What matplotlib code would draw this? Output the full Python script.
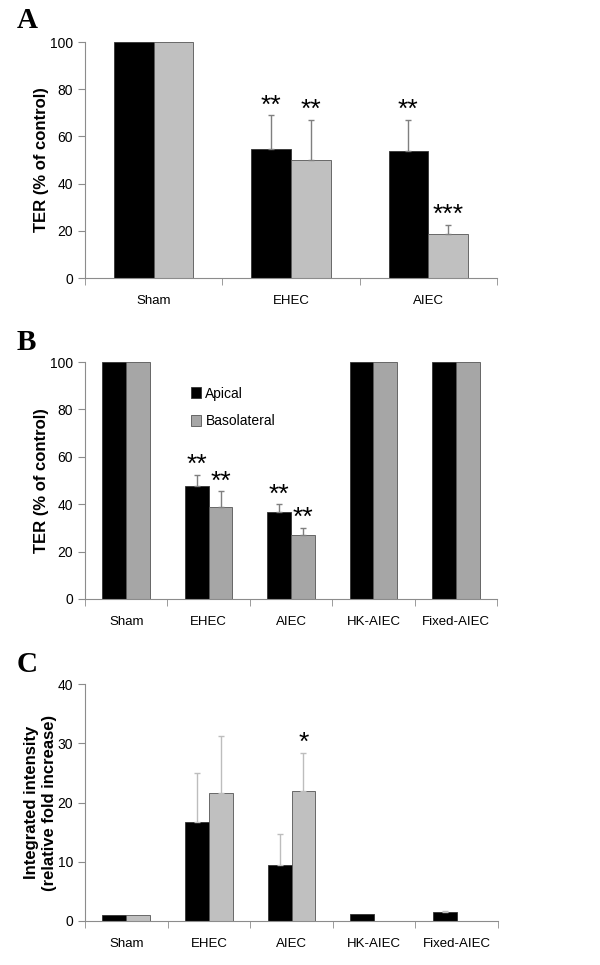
import numpy as np
from matplotlib import pyplot as plt

plt.rcParams['font.family'] = ['Liberation Sans', 'DejaVu Sans']

# panel A
cats_a = ['Sham', 'EHEC', 'AIEC']
apical_a = [100, 54.5, 54]
apical_a_err = [0, 14.5, 13]
baso_a = [100, 50, 18.5]
baso_a_err = [0, 17, 4]
stars_a_apical = ['', '**', '**']
stars_a_baso = ['', '**', '***']

# panel B
cats_b = ['Sham', 'EHEC', 'AIEC', 'HK-AIEC', 'Fixed-AIEC']
apical_b = [100, 47.5, 36.5, 100, 100]
apical_b_err = [0, 5, 3.5, 0, 0]
baso_b = [100, 39, 27, 100, 100]
baso_b_err = [0, 6.5, 3, 0, 0]
stars_b_apical = ['', '**', '**', '', '']
stars_b_baso = ['', '**', '**', '', '']

# panel C
cats_c = ['Sham', 'EHEC', 'AIEC', 'HK-AIEC', 'Fixed-AIEC']
apical_c = [1, 16.7, 9.4, 1.2, 1.5]
apical_c_err = [0, 8.3, 5.2, 0, 0.15]
baso_c = [1, 21.6, 21.9, 0, 0]
baso_c_err = [0, 9.6, 6.5, 0, 0]
stars_c_baso = ['', '', '*', '', '']

W, H = 600, 965
fig = plt.figure(figsize=(W / 100, H / 100), dpi=100)
fig.patch.set_facecolor('white')

AXIS_COL = '#8c8c8c'


def make_ax(x0, x1, ytop, ybot):
    return fig.add_axes([x0 / W, 1 - ybot / H, (x1 - x0) / W, (ybot - ytop) / H])


def draw_panel(ax, cats, apical, apical_err, baso, baso_err, ymax, ystep,
               grey, err_col, stars_ap=None, stars_ba=None, bw=0.29):
    x = np.arange(len(cats))
    ax.bar(x - bw / 2, apical, bw, color='black', edgecolor='#333333', linewidth=0.6, zorder=2)
    ax.bar(x + bw / 2, baso, bw, color=grey, edgecolor='#555555', linewidth=0.6, zorder=2)
    for i in range(len(cats)):
        if apical_err[i] > 0:
            ax.errorbar(x[i] - bw / 2, apical[i], yerr=[[0], [apical_err[i]]], fmt='none',
                        ecolor=err_col, elinewidth=1, capsize=2.5, capthick=1, zorder=3)
        if baso_err[i] > 0:
            ax.errorbar(x[i] + bw / 2, baso[i], yerr=[[0], [baso_err[i]]], fmt='none',
                        ecolor=err_col, elinewidth=1, capsize=2.5, capthick=1, zorder=3)
        if stars_ap and stars_ap[i]:
            ax.text(x[i] - bw / 2, apical[i] + apical_err[i] - ymax * 0.01, stars_ap[i],
                    ha='center', va='bottom', fontsize=19)
        if stars_ba and stars_ba[i]:
            ax.text(x[i] + bw / 2, baso[i] + baso_err[i] - ymax * 0.01, stars_ba[i],
                    ha='center', va='bottom', fontsize=19)
    ax.set_xlim(-0.5, len(cats) - 0.5)
    ax.set_ylim(0, ymax)
    ax.set_yticks(np.arange(0, ymax + 1, ystep))
    ax.set_xticks(x)
    ax.set_xticklabels(cats, fontsize=9.5)
    ax.set_xticks(np.arange(-0.5, len(cats), 1), minor=True)
    ax.tick_params(axis='x', which='major', length=0, pad=12)
    ax.tick_params(axis='x', which='minor', length=5, color=AXIS_COL, direction='out')
    ax.tick_params(axis='y', length=5, color=AXIS_COL, labelsize=10, direction='out')
    for s in ['top', 'right']:
        ax.spines[s].set_visible(False)
    for s in ['left', 'bottom']:
        ax.spines[s].set_color(AXIS_COL)
        ax.spines[s].set_linewidth(0.8)


ax_a = make_ax(85, 497, 42, 278)
draw_panel(ax_a, cats_a, apical_a, apical_a_err, baso_a, baso_a_err, 100, 20,
           '#c0c0c0', '#7f7f7f', stars_a_apical, stars_a_baso)
ax_a.set_ylabel('TER (% of control)', fontsize=12, fontweight='bold')
ax_a.yaxis.set_label_coords(-0.088, 0.5)

ax_b = make_ax(85, 497, 362, 599)
draw_panel(ax_b, cats_b, apical_b, apical_b_err, baso_b, baso_b_err, 100, 20,
           '#a6a6a6', '#7f7f7f', stars_b_apical, stars_b_baso)
ax_b.set_ylabel('TER (% of control)', fontsize=12, fontweight='bold')
ax_b.yaxis.set_label_coords(-0.088, 0.5)
leg = ax_b.legend(['Apical', 'Basolateral'], loc='upper left', bbox_to_anchor=(0.245, 0.92),
                  frameon=False, fontsize=10, handlelength=0.7, handleheight=0.9,
                  handletextpad=0.3, labelspacing=1.0, borderaxespad=0)

ax_c = make_ax(85, 498, 684, 921)
draw_panel(ax_c, cats_c, apical_c, apical_c_err, baso_c, baso_c_err, 40, 10,
           '#c0c0c0', '#bdbdbd', None, stars_c_baso)
ax_c.set_ylabel('Integrated intensity\n(relative fold increase)', fontsize=12,
                fontweight='bold', linespacing=1.25)
ax_c.yaxis.set_label_coords(-0.068, 0.5)

for letter, y in [('A', 20), ('B', 342), ('C', 665)]:
    fig.text(17 / W, 1 - y / H, letter, fontsize=21, fontweight='bold',
             family=['Liberation Serif', 'DejaVu Serif'], va='center', ha='left')

fig.savefig('out.png', dpi=100, facecolor='white')
